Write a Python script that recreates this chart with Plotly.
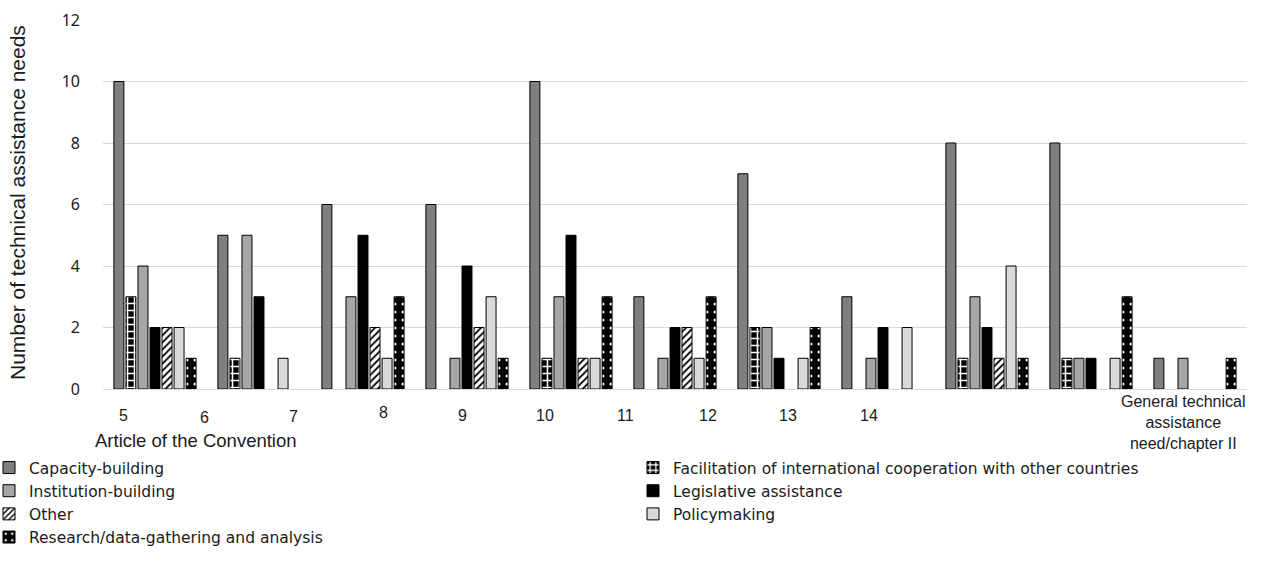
import plotly.graph_objects as go

categories = ["5", "6", "7", "8", "9", "10", "11", "12", "13", "14",
              "General technical<br>assistance<br>need/chapter II"]

series_names = [
    "Capacity-building",
    "Facilitation of international cooperation with other countries",
    "Institution-building",
    "Legislative assistance",
    "Other",
    "Policymaking",
    "Research/data-gathering and analysis",
]

capacity_building = [10, 5, 6, 6, 10, 3, 7, 3, 8, 8, 1]
facilitation      = [3, 1, 0, 0, 1, 0, 2, 0, 1, 1, 0]
institution       = [4, 5, 3, 1, 3, 1, 2, 1, 3, 1, 1]
legislative       = [2, 3, 5, 4, 5, 2, 1, 2, 2, 1, 0]
other             = [2, 0, 2, 2, 1, 2, 0, 0, 1, 0, 0]
policymaking      = [2, 1, 1, 3, 1, 1, 1, 2, 4, 1, 0]
research          = [1, 0, 3, 1, 3, 3, 2, 0, 1, 3, 1]

y_ticks = [0, 2, 4, 6, 8, 10, 12]

values = [capacity_building, facilitation, institution, legislative,
          other, policymaking, research]

# styles
styles = [
    dict(color="#808080", line=dict(color="#000000", width=1)),
    dict(color="#000000", line=dict(color="#000000", width=1),
         pattern=dict(shape="+", fgcolor="#ffffff", bgcolor="#000000",
                      size=7, solidity=0.4, fillmode="replace")),
    dict(color="#A6A6A6", line=dict(color="#000000", width=1)),
    dict(color="#000000", line=dict(color="#000000", width=1)),
    dict(color="#ffffff", line=dict(color="#000000", width=1),
         pattern=dict(shape="/", fgcolor="#000000", bgcolor="#ffffff",
                      size=5, solidity=0.35, fillmode="replace")),
    dict(color="#D9D9D9", line=dict(color="#000000", width=1)),
    dict(color="#000000", line=dict(color="#000000", width=1),
         pattern=dict(shape=".", fgcolor="#ffffff", bgcolor="#000000",
                      size=8, solidity=0.12, fillmode="replace")),
]
# left legend column / right legend column (as in the reference)
legend_ids = ["legend", "legend2", "legend", "legend2", "legend", "legend2", "legend"]

fig = go.Figure()
for name, vals, st, lg in zip(series_names, values, styles, legend_ids):
    fig.add_trace(go.Bar(
        x=categories, y=[v if v != 0 else None for v in vals],
        name=name, marker=st, legend=lg))

W, H = 1282, 573
L, R, T, B = 103, 35, 20, 184
pw, ph = W - L - R, H - T - B

def px_x(p):
    return (p - L) / pw

def px_y(p):
    return (H - B - p) / ph

# tick label positions (pixel centres as drawn in the reference)
label_px = [123, 204, 293, 383, 462, 545, 625, 708, 788, 869, 1183]
label_py = [405, 407, 406, 402, 405, 405, 405, 405, 405, 405, 391]

annotations = []
for lab, xp, yp in zip(categories, label_px, label_py):
    annotations.append(dict(
        text=lab, x=px_x(xp), y=px_y(yp), xref="paper", yref="paper",
        xanchor="center", yanchor="top", showarrow=False, align="center",
        font=dict(family="Liberation Sans, Arial, sans-serif", size=16, color="#1a1a1a"),
    ))
annotations.append(dict(
    text="Article of the Convention", x=px_x(196), y=px_y(440),
    xref="paper", yref="paper", xanchor="center", yanchor="middle",
    showarrow=False,
    font=dict(family="Liberation Sans, Arial, sans-serif", size=18.5, color="#1a1a1a"),
))
annotations.append(dict(
    text="Number of technical assistance needs", textangle=-90,
    x=px_x(17), y=px_y(203), xref="paper", yref="paper",
    xanchor="center", yanchor="middle", showarrow=False,
    font=dict(family="Liberation Sans, Arial, sans-serif", size=21, color="#1a1a1a"),
))

legend_font = dict(family="DejaVu Sans, sans-serif", size=15.5, color="#1a1a1a")

fig.update_layout(
    width=W, height=H,
    margin=dict(l=L, r=R, t=T, b=B, pad=0, autoexpand=False),
    paper_bgcolor="white", plot_bgcolor="white",
    barmode="group", bargap=0.19, bargroupgap=0.17,
    showlegend=True,
    legend=dict(
        orientation="v", x=px_x(-11), y=px_y(451), xref="paper", yref="paper",
        xanchor="left", yanchor="top",
        traceorder="normal", font=legend_font, itemwidth=30, tracegroupgap=0,
    ),
    legend2=dict(
        orientation="v", x=px_x(633), y=px_y(451), xref="paper", yref="paper",
        xanchor="left", yanchor="top",
        traceorder="normal", font=legend_font, itemwidth=30, tracegroupgap=0,
    ),
    annotations=annotations,
    xaxis=dict(showticklabels=False, showgrid=False, zeroline=False,
               showline=False, ticks=""),
    yaxis=dict(
        range=[0, 12], tickvals=y_ticks, showgrid=True, gridcolor="#D9D9D9",
        gridwidth=1, zeroline=True, zerolinecolor="#D9D9D9", zerolinewidth=1,
        showline=False, ticks="", ticklabelstandoff=22,
        tickfont=dict(family="Noto Sans, sans-serif", size=16, color="#1a1a1a"),
    ),
)

fig.write_html("out.html", config={"displayModeBar": False},
               post_script="document.body.style.margin='0';")
